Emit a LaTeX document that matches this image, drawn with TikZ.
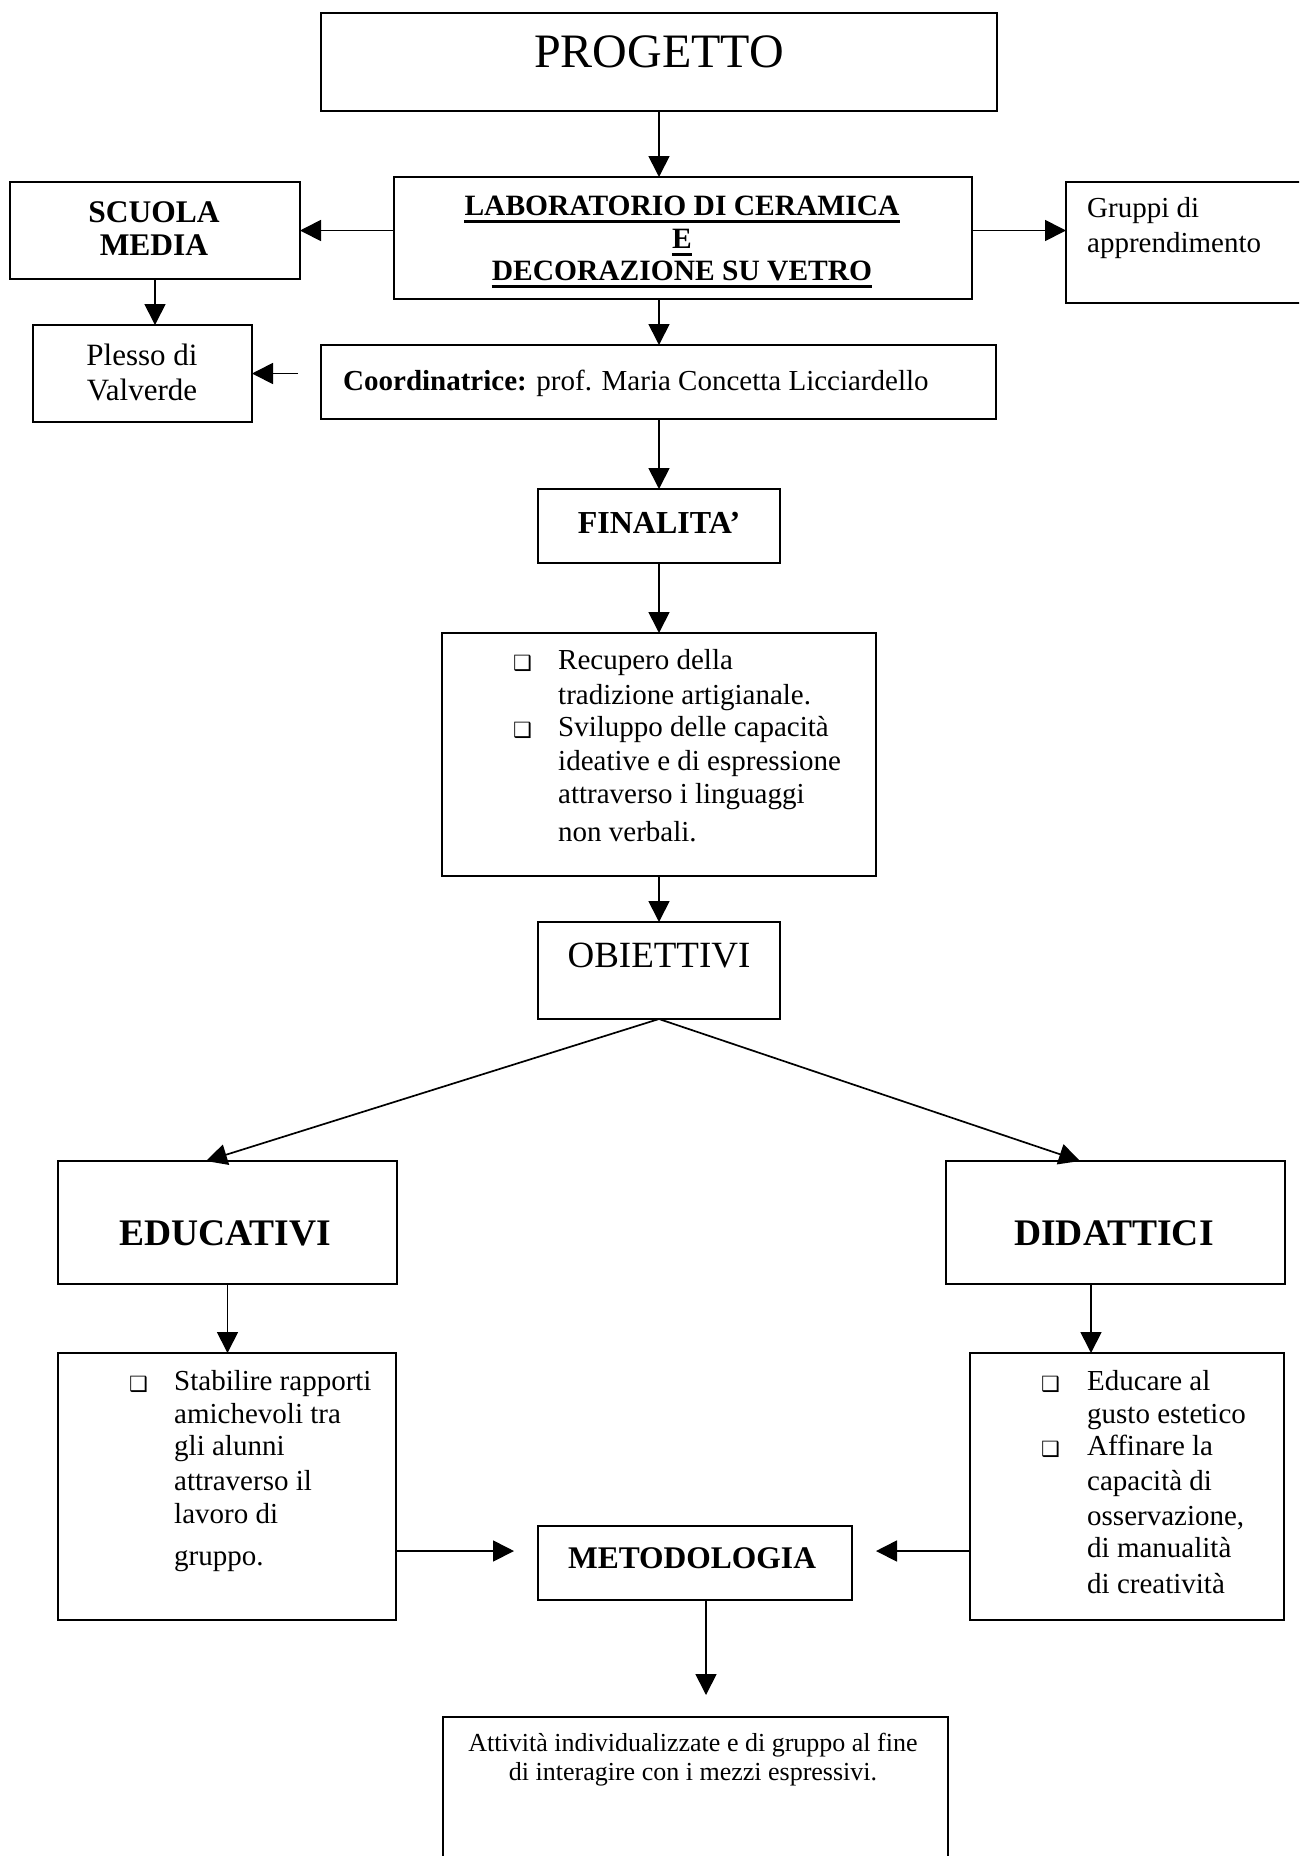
\documentclass[tikz,border=0pt]{standalone}
\usepackage{fontspec}
\setmainfont{Liberation Serif}
\newfontfamily\bulletfont{DejaVu Sans}
\usetikzlibrary{arrows.meta}
\newcommand\bxsym{{\bulletfont\fontsize{21}{21}\selectfont ❑}}
\begin{document}
\begin{tikzpicture}[x=1pt,y=-1pt,
  box/.style={draw,line width=2.2pt,rectangle,inner sep=0pt,outer sep=0pt,anchor=north west},
  arr/.style={line width=1.7pt,-{Triangle[length=21pt,width=21pt]}},
  tc/.style={anchor=base,inner sep=0pt},
  tl/.style={anchor=base west,inner sep=0pt},
  fbig/.style={font=\fontsize{48}{52}\selectfont},
  fobj/.style={font=\fontsize{37}{40}\selectfont},
  fhead/.style={font=\bfseries\fontsize{37.5}{40}\selectfont},
  flab/.style={font=\bfseries\fontsize{29.5}{33}\selectfont},
  fbold/.style={font=\bfseries\fontsize{31.5}{34}\selectfont},
  fbody/.style={font=\fontsize{29}{33}\selectfont},
  fsmall/.style={font=\fontsize{26}{29}\selectfont},
  uline/.style={line width=3pt}
]
\useasboundingbox (0,0) rectangle (1299,1856);
\fill[white] (0,0) rectangle (1299,1856);
\clip (0,0) rectangle (1299,1856);

% ---------- boxes ----------
\node[box,minimum width=676pt,minimum height=98pt]  (progetto)  at (321,13)   {};
\node[box,minimum width=578pt,minimum height=122pt] (lab)       at (394,177)  {};
\node[box,minimum width=290pt,minimum height=97pt]  (scuola)    at (10,182)   {};
\node[box,minimum width=300pt,minimum height=121pt] (gruppi)    at (1066,182) {};
\node[box,minimum width=219pt,minimum height=97pt]  (plesso)    at (33,325)   {};
\node[box,minimum width=675pt,minimum height=74pt]  (coord)     at (321,345)  {};
\node[box,minimum width=242pt,minimum height=74pt]  (finalita)  at (538,489)  {};
\node[box,minimum width=434pt,minimum height=243pt] (finlist)   at (442,633)  {};
\node[box,minimum width=242pt,minimum height=97pt]  (obiettivi) at (538,922)  {};
\node[box,minimum width=339pt,minimum height=123pt] (educativi) at (58,1161)  {};
\node[box,minimum width=339pt,minimum height=123pt] (didattici) at (946,1161) {};
\node[box,minimum width=338pt,minimum height=267pt] (educlist)  at (58,1353)  {};
\node[box,minimum width=314pt,minimum height=267pt] (didlist)   at (970,1353) {};
\node[box,minimum width=314pt,minimum height=74pt]  (metod)     at (538,1526) {};
\node[box,minimum width=505pt,minimum height=220pt] (bottom)    at (443,1717) {};

% ---------- texts ----------
\node[tc,fbig] (tprog) at (659,67) {PROGETTO};

\node[tc,flab] (lab1) at (682,215) {LABORATORIO DI CERAMICA};
\node[tc,flab] (lab2) at (682,248) {E};
\node[tc,flab] (lab3) at (682,280) {DECORAZIONE SU VETRO};
\foreach \n in {lab1,lab2,lab3}
  \draw[uline] ([yshift=-6pt]\n.base west) -- ([yshift=-6pt]\n.base east);

\node[tc,fbold] (sc1) at (154,222) {SCUOLA};
\node[tc,fbold] (sc2) at (154,255) {MEDIA};

\node[tl,fbody] (gr1) at (1087,217) {Gruppi di};
\node[tl,fbody] (gr2) at (1087,252) {apprendimento};

\node[tc,font=\fontsize{31}{34}\selectfont] (pl1) at (142,365) {Plesso di};
\node[tc,font=\fontsize{31}{34}\selectfont] (pl2) at (142,400) {Valverde};

\node[tl,fbody] (tcoord) at (343,390) {\textbf{Coordinatrice:} prof. Maria Concetta Licciardello};

\node[tc,font=\bfseries\fontsize{32}{35}\selectfont] (tfin) at (659,533) {FINALITA’};

\node[tl] (fb1) at (513,670) {\bxsym};
\node[tl] (fb2) at (513,737) {\bxsym};
\node[tl,fbody] (f1) at (558,669) {Recupero della};
\node[tl,fbody] (f2) at (558,704) {tradizione artigianale.};
\node[tl,fbody] (f3) at (558,736) {Sviluppo delle capacità};
\node[tl,fbody] (f4) at (558,770) {ideative e di espressione};
\node[tl,fbody] (f5) at (558,803) {attraverso i linguaggi};
\node[tl,fbody] (f6) at (558,841) {non verbali.};

\node[tc,fobj] (tobj) at (659,967) {OBIETTIVI};

\node[tc,fhead] (tedu) at (225,1245) {EDUCATIVI};
\node[tc,fhead] (tdid) at (1114,1245) {DIDATTICI};

\node[tl] (eb1) at (129,1391) {\bxsym};
\node[tl,fbody] (e1) at (174,1390) {Stabilire rapporti};
\node[tl,fbody] (e2) at (174,1423) {amichevoli tra};
\node[tl,fbody] (e3) at (174,1455) {gli alunni};
\node[tl,fbody] (e4) at (174,1490) {attraverso il};
\node[tl,fbody] (e5) at (174,1523) {lavoro di};
\node[tl,fbody] (e6) at (174,1565) {gruppo.};

\node[tl] (db1) at (1041,1391) {\bxsym};
\node[tl] (db2) at (1041,1456) {\bxsym};
\node[tl,fbody] (d1) at (1087,1390) {Educare al};
\node[tl,fbody] (d2) at (1087,1423) {gusto estetico};
\node[tl,fbody] (d3) at (1087,1455) {Affinare la};
\node[tl,fbody] (d4) at (1087,1490) {capacità di};
\node[tl,fbody] (d5) at (1087,1525) {osservazione,};
\node[tl,fbody] (d6) at (1087,1557) {di manualità};
\node[tl,fbody] (d7) at (1087,1593) {di creatività};

\node[tc,fbold] (tmet) at (692,1568) {METODOLOGIA};

\node[tc,fsmall] (b1) at (693,1751) {Attività individualizzate e di gruppo al fine};
\node[tc,fsmall] (b2) at (693,1780) {di interagire con i mezzi espressivi.};

% ---------- connector coordinates ----------
\coordinate (cpl) at (298,373.5);
\coordinate (edtip) at (206,1161);
\coordinate (didtip) at (1080,1161);
\coordinate (dx) at (1091,0);
\coordinate (ey) at (0,1551);
\coordinate (etip) at (514,1551);
\coordinate (dtip) at (876,1551);
\coordinate (mx) at (706,0);
\coordinate (mtip) at (706,1695);

% ---------- connectors ----------
\draw[arr] (progetto.south) -- (progetto.south |- lab.north);
\draw[arr] (lab.west |- scuola.east) -- (scuola.east);
\draw[arr] (lab.east |- scuola.east) -- (gruppi.west |- scuola.east);
\draw[arr] (scuola.south) -- (scuola.south |- plesso.north);
\draw[arr] (progetto.south |- lab.south) -- (progetto.south |- coord.north);
\draw[arr] (cpl) -- (plesso.east);
\draw[arr] (finalita.north |- coord.south) -- (finalita.north);
\draw[arr] (finalita.south) -- (finlist.north);
\draw[arr] (finlist.south) -- (obiettivi.north);
\draw[arr] (obiettivi.south) -- (edtip);
\draw[arr] (obiettivi.south) -- (didtip);
\draw[arr] (educativi.south) -- (educativi.south |- educlist.north);
\draw[arr] (didattici.south -| dx) -- (didlist.north -| dx);
\draw[arr] (educlist.east |- ey) -- (etip);
\draw[arr] (didlist.west |- ey) -- (dtip);
\draw[arr] (metod.south -| mx) -- (mtip);
\end{tikzpicture}
\end{document}
